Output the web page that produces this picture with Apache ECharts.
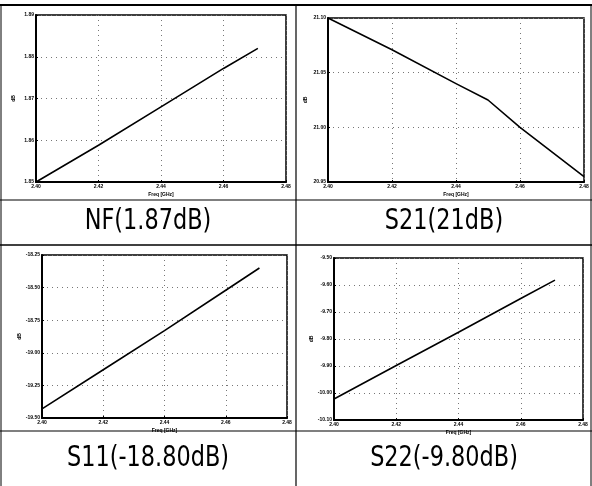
<!DOCTYPE html>
<html><head><meta charset="utf-8">
<script src="https://cdn.jsdelivr.net/npm/echarts@6/dist/echarts.min.js"></script>
<style>html,body{margin:0;padding:0;background:#fff}#c{width:592px;height:486px}</style>
</head><body><div id="c"></div>
<script>
// Data (frequency in GHz, values in dB)
const xTicks = [2.40, 2.42, 2.44, 2.46, 2.48];
const nfFreq = [2.40, 2.42, 2.44, 2.46, 2.471];
const nfVals = [1.850, 1.8588, 1.868, 1.8772, 1.882];
const s21Freq = [2.40, 2.42, 2.44, 2.45, 2.46, 2.48];
const s21Vals = [21.10, 21.071, 21.040, 21.025, 21.000, 20.955];
const s11Freq = [2.40, 2.42, 2.44, 2.46, 2.471];
const s11Vals = [-19.43, -19.13, -18.83, -18.52, -18.35];
const s22Freq = [2.40, 2.42, 2.44, 2.46, 2.471];
const s22Vals = [-10.022, -9.898, -9.775, -9.650, -9.582];
const captions = ['NF(1.87dB)', 'S21(21dB)', 'S11(-18.80dB)', 'S22(-9.80dB)'];
const yRanges = [[1.85, 1.89, 0.01], [20.95, 21.10, 0.05], [-19.50, -18.25, 0.25], [-10.10, -9.50, 0.10]];

const grids = [
  {left: 36, top: 15, width: 250, height: 167},
  {left: 328, top: 18, width: 256, height: 164},
  {left: 42, top: 255, width: 245, height: 163},
  {left: 334, top: 258, width: 249, height: 162}
];
const series = [[nfFreq, nfVals], [s21Freq, s21Vals], [s11Freq, s11Vals], [s22Freq, s22Vals]];

const chart = echarts.init(document.getElementById('c'));
const xAxis = [], yAxis = [], ser = [];
for (let i = 0; i < 4; i++) {
  xAxis.push({type: 'value', gridIndex: i, min: 2.40, max: 2.48, interval: 0.02,
    name: 'Freq [GHz]', nameLocation: 'middle', nameGap: 10,
    nameTextStyle: {fontSize: 5, fontWeight: 'bold', color: '#000'},
    axisLine: {show: true, lineStyle: {color: '#000', width: 2}},
    axisTick: {show: true, inside: true, length: 2, lineStyle: {color: '#000'}},
    axisLabel: {fontSize: 5, fontWeight: 'bold', color: '#000', margin: 2, formatter: v => v.toFixed(2)},
    splitLine: {show: true, lineStyle: {color: '#777', type: [1, 4], width: 1}}});
  yAxis.push({type: 'value', gridIndex: i, min: yRanges[i][0], max: yRanges[i][1], interval: yRanges[i][2],
    name: 'dB', nameLocation: 'middle', nameGap: 20, nameRotate: 90,
    nameTextStyle: {fontSize: 5, fontWeight: 'bold', color: '#000'},
    axisLine: {show: true, lineStyle: {color: '#000', width: 2}},
    axisTick: {show: true, inside: true, length: 2, lineStyle: {color: '#000'}},
    axisLabel: {fontSize: 5, fontWeight: 'bold', color: '#000', margin: 2, formatter: v => v.toFixed(2)},
    splitLine: {show: true, lineStyle: {color: '#777', type: [1, 4], width: 1}}});
  ser.push({type: 'line', xAxisIndex: i, yAxisIndex: i, showSymbol: false, silent: true,
    lineStyle: {color: '#000', width: 1.6},
    data: series[i][0].map((x, k) => [x, series[i][1][k]])});
}
const gridsOpt = grids.map(g => Object.assign({show: true, borderColor: '#000', borderWidth: 1.5, backgroundColor: 'transparent'}, g));

const L = (x1, y1, x2, y2, w) => ({type: 'line', shape: {x1, y1, x2, y2}, style: {stroke: '#000', lineWidth: w || 1}, silent: true});
const capPos = [[148, 222], [444, 222], [148, 459], [444, 459]];
const graphic = [
  L(0, 5, 592, 5, 2), L(1, 5, 1, 486, 1), L(591, 5, 591, 486, 1),
  L(296, 5, 296, 486, 1.2),
  L(0, 200, 592, 200, 1.2), L(0, 245, 592, 245, 1.5), L(0, 431, 592, 431, 1.2)
];
captions.forEach((t, i) => graphic.push({type: 'text', x: capPos[i][0], y: capPos[i][1], scaleX: 0.8, silent: true,
  style: {text: t, fontSize: 28, fontFamily: 'DejaVu Sans', fill: '#000', textAlign: 'center', textVerticalAlign: 'middle'}}));

chart.setOption({animation: false, backgroundColor: '#fff', grid: gridsOpt, xAxis, yAxis, series: ser, graphic});
</script></body></html>
